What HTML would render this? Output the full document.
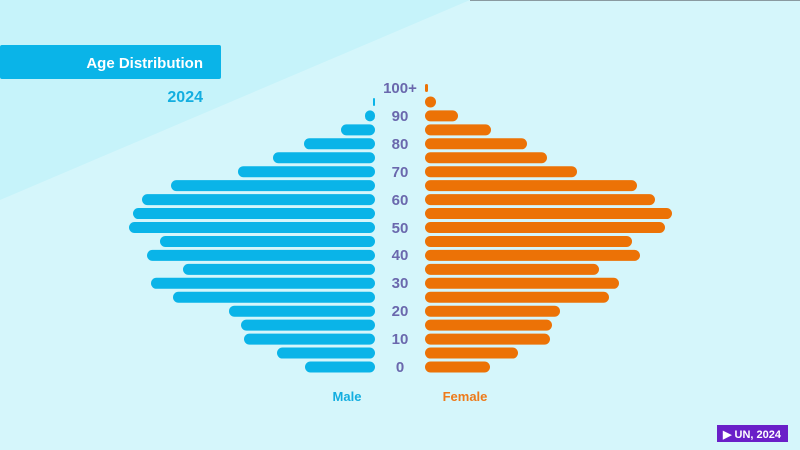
<!DOCTYPE html>
<html><head><meta charset="utf-8"><style>
html,body{margin:0;padding:0;width:800px;height:450px;overflow:hidden;background:#d5f6fb}
svg{display:block}
text{font-family:"Liberation Sans",sans-serif;font-weight:bold}
</style></head><body>
<svg width="800" height="450" viewBox="0 0 800 450" xmlns="http://www.w3.org/2000/svg">
<rect width="800" height="450" fill="#d5f6fb"/>
<polygon points="0,0 470,0 0,200" fill="#c6f3fa"/>
<line x1="470" y1="0.5" x2="800" y2="0.5" stroke="#8a9aa0" stroke-width="1"/>
<rect x="0" y="45" width="221" height="34" rx="2" fill="#0ab4e8"/>
<text x="203" y="68" fill="#fff" font-size="15" text-anchor="end">Age Distribution</text>
<text x="203" y="102" fill="#13aee0" font-size="16" text-anchor="end">2024</text>
<g fill="#6a68ad" font-size="15" text-anchor="middle">
<text x="400" y="93">100+</text>
<text x="400" y="121">90</text>
<text x="400" y="149">80</text>
<text x="400" y="177">70</text>
<text x="400" y="205">60</text>
<text x="400" y="233">50</text>
<text x="400" y="260">40</text>
<text x="400" y="288">30</text>
<text x="400" y="316">20</text>
<text x="400" y="344">10</text>
<text x="400" y="372">0</text>
</g>
<text x="347" y="401" fill="#13aee0" font-size="13" text-anchor="middle">Male</text>
<text x="465" y="401" fill="#ee7a1a" font-size="13" text-anchor="middle">Female</text>
<rect x="717" y="425" width="71" height="17" fill="#6a1fc8"/>
<text x="752" y="438" fill="#fff" font-size="11" text-anchor="middle">▶ UN, 2024</text>
<g id="m" fill="#0ab4e8"></g>
<g id="f" fill="#ec7206"></g>
</svg>
<script>
var ml=[375,373,365,341,304,273,238,171,142,133,129,160,147,183,151,173,229,241,244,277,305];
var fr=[428,436,458,491,527,547,577,637,655,672,665,632,640,599,619,609,560,552,550,518,490];
var ns="http://www.w3.org/2000/svg";
var m=document.getElementById("m"),f=document.getElementById("f");
for(var i=0;i<21;i++){
 var y=88+13.95*i;
 if(i>0){
 var r=document.createElementNS(ns,"rect");
 var w=Math.max(375-ml[i],2);
 r.setAttribute("x",375-w);r.setAttribute("y",y-5.5);r.setAttribute("width",w);r.setAttribute("height",11);r.setAttribute("rx",Math.min(5.5,w/2));
 if(i==1){r.setAttribute("y",y-4);r.setAttribute("height",8);}
 m.appendChild(r);
 }
 var g=document.createElementNS(ns,"rect");
 var w2=Math.max(fr[i]-425,2);
 g.setAttribute("x",425);g.setAttribute("y",y-5.5);g.setAttribute("width",w2);g.setAttribute("height",11);g.setAttribute("rx",Math.min(5.5,w2/2));
 if(i==0){g.setAttribute("y",y-4);g.setAttribute("height",8);}
 f.appendChild(g);
}
</script>
</body></html>
